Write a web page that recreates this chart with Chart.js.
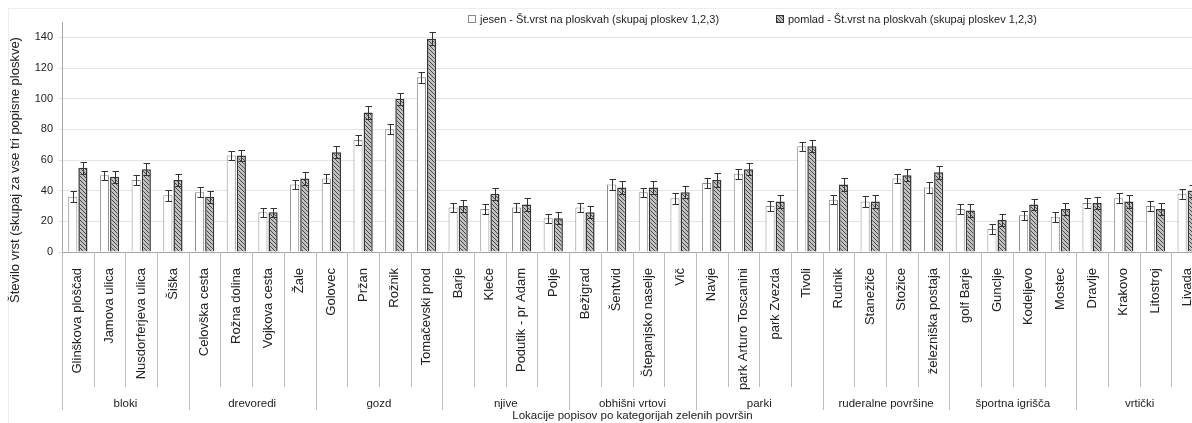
<!DOCTYPE html>
<html>
<head>
<meta charset="utf-8">
<script src="https://cdn.jsdelivr.net/npm/chart.js@4.4.0/dist/chart.umd.min.js"></script>
<style>
  html, body { margin: 0; padding: 0; background: #fff; overflow: hidden; }
  #wrap { position: relative; width: 1192px; height: 423px; overflow: hidden; }
  #frame { position: absolute; left: 8px; top: 8px; width: 1300px; height: 500px; border: 1px solid #ededed; }
  #chartBox { position: absolute; left: 0; top: 0; width: 1215px; height: 423px; }
  .leg { position: absolute; top: 13px; font: 11px "Liberation Sans", Arial, sans-serif; color: #222;
         display: flex; align-items: center; white-space: nowrap; }
  .box { display: inline-block; width: 6px; height: 6px; margin-right: 4px; }
  .box.jesen { border: 1px solid #888; background: #fff; }
  .box.pomlad { border: 1px solid #333; background: repeating-linear-gradient(45deg, #555 0 1px, #c4c4c4 1px 2.5px); }
</style>
</head>
<body>
<div id="wrap">
  <div id="frame"></div>
  <div id="chartBox"><canvas id="chart" width="1215" height="423"></canvas></div>
  <div class="leg" style="left:468px"><span class="box jesen"></span>jesen - Št.vrst na ploskvah (skupaj ploskev 1,2,3)</div>
  <div class="leg" style="left:776px"><span class="box pomlad"></span>pomlad - Št.vrst na ploskvah (skupaj ploskev 1,2,3)</div>
</div>
<script>
// Locations (x axis, inner level)
const categories = [
  'Glinškova ploščad', 'Jamova ulica', 'Nusdorferjeva ulica', 'Šiška',
  'Celovška cesta', 'Rožna dolina', 'Vojkova cesta', 'Žale',
  'Golovec', 'Pržan', 'Rožnik', 'Tomačevski prod',
  'Barje', 'Kleče', 'Podutik - pr Adam', 'Polje',
  'Bežigrad', 'Šentvid', 'Štepanjsko naselje', 'Vič',
  'Navje', 'park Arturo Toscanini', 'park Zvezda', 'Tivoli',
  'Rudnik', 'Stanežiče', 'Stožice', 'železniška postaja',
  'golf Barje', 'Gunclje', 'Kodeljevo', 'Mostec',
  'Dravlje', 'Krakovo', 'Litostroj', 'Livada'
];

// Green area categories (x axis, outer level)
const groups = ['bloki', 'drevoredi', 'gozd', 'njive', 'obhišni vrtovi', 'parki', 'ruderalne površine', 'športna igrišča', 'vrtički'];
const groupSizes = [4, 4, 4, 4, 4, 4, 4, 4, 4];

// Species counts
const jesen = [36, 50, 47, 37, 39, 63, 26, 44, 48, 73, 80, 114, 29, 28, 29, 22, 29, 44, 39, 35,
  45, 51, 30, 69, 34, 33, 48, 42, 28, 15, 24, 23, 32, 35, 30, 38];
const pomlad = [55, 49, 54, 47, 36, 63, 26, 48, 65, 91, 100, 139, 30, 38, 31, 22, 26, 42, 42, 39,
  47, 54, 33, 69, 44, 33, 50, 52, 27, 21, 31, 28, 32, 33, 28, 40];

// Error bar half-lengths
const jesenErr = [3.5, 3, 3.5, 3.5, 3.3, 3, 3, 3, 3, 3.3, 3.3, 3.5, 3, 3, 3, 3, 3, 3.3, 3, 3.5,
  3, 3.3, 3, 3, 3, 3.5, 3, 3.5, 3, 3.3, 3, 3.3, 3.3, 3.3, 3.3, 3.3];
const pomladErr = [4, 4, 4, 4, 4, 3.5, 3, 4, 4, 4.3, 4, 4.3, 4, 4, 4, 4, 4, 4, 4, 4,
  4.3, 4, 4, 4, 4, 4, 4, 4.3, 4, 4, 3.7, 4, 4, 4, 4, 4];

// Y axis
const yMax = 150;
const yStep = 20;
const yLastLabel = 140;

const yTitle = 'Število vrst (skupaj za vse tri popisne ploskve)';
const xTitle = 'Lokacije popisov po kategorijah zelenih površin';

const FONT = '"Liberation Sans", Arial, sans-serif';

function makeHatch() {
  const c = document.createElement('canvas');
  c.width = 4; c.height = 4;
  const g = c.getContext('2d');
  g.fillStyle = '#c0c0c0';
  g.fillRect(0, 0, 4, 4);
  g.strokeStyle = '#4a4a4a';
  g.lineWidth = 1;
  g.beginPath();
  g.moveTo(0, 0); g.lineTo(4, 4);
  g.moveTo(-1, 3); g.lineTo(1, 5);
  g.moveTo(3, -1); g.lineTo(5, 1);
  g.stroke();
  return g.createPattern(c, 'repeat');
}

// error bars on top of each bar
const errorBars = {
  id: 'errorBars',
  afterDatasetsDraw(chart) {
    const ctx = chart.ctx;
    const y = chart.scales.y;
    [jesenErr, pomladErr].forEach((errs, di) => {
      const meta = chart.getDatasetMeta(di);
      const vals = chart.data.datasets[di].data;
      ctx.save();
      ctx.strokeStyle = '#333';
      ctx.lineWidth = 1;
      ctx.beginPath();
      meta.data.forEach((bar, i) => {
        const x = Math.round(bar.x) + 0.5;
        const top = Math.round(y.getPixelForValue(vals[i] + errs[i])) + 0.5;
        const bot = Math.round(y.getPixelForValue(vals[i] - errs[i])) + 0.5;
        ctx.moveTo(x, top); ctx.lineTo(x, bot);
        ctx.moveTo(x - 3, top); ctx.lineTo(x + 3.5, top);
        ctx.moveTo(x - 3, bot); ctx.lineTo(x + 3.5, bot);
      });
      ctx.stroke();
      ctx.restore();
    });
  }
};

// two level x axis: separators + group names, and the y title
const groupAxis = {
  id: 'groupAxis',
  afterDraw(chart) {
    const ctx = chart.ctx;
    const x = chart.scales.x;
    const area = chart.chartArea;
    const w = x.getPixelForValue(1) - x.getPixelForValue(0);
    const edge = i => x.getPixelForValue(i) - w / 2;

    ctx.save();
    ctx.strokeStyle = '#bdbdbd';
    ctx.lineWidth = 1;
    ctx.beginPath();
    for (let i = 0; i <= categories.length; i++) {
      const px = Math.round(edge(i)) + 0.5;
      ctx.moveTo(px, area.bottom);
      ctx.lineTo(px, area.bottom + 135);
    }
    let start = 0;
    groupSizes.forEach(n => {
      const px = Math.round(edge(start)) + 0.5;
      ctx.moveTo(px, area.bottom);
      ctx.lineTo(px, area.bottom + 158);
      start += n;
    });
    const last = Math.round(edge(start)) + 0.5;
    ctx.moveTo(last, area.bottom);
    ctx.lineTo(last, area.bottom + 158);
    ctx.stroke();

    ctx.fillStyle = '#222';
    ctx.font = '11.5px ' + FONT;
    ctx.textAlign = 'center';
    ctx.textBaseline = 'middle';
    start = 0;
    groups.forEach((g, k) => {
      const a = edge(start), b = edge(start + groupSizes[k]);
      ctx.fillText(g, (a + b) / 2, area.bottom + 152);
      start += groupSizes[k];
    });

    // y axis title
    ctx.font = '13px ' + FONT;
    ctx.translate(15, area.bottom - 82);
    ctx.rotate(-Math.PI / 2);
    ctx.fillText(yTitle, 0, 0);
    ctx.restore();
  }
};

new Chart(document.getElementById('chart'), {
  type: 'bar',
  data: {
    labels: categories,
    datasets: [
      {
        label: 'jesen - Št.vrst na ploskvah (skupaj ploskev 1,2,3)',
        data: jesen,
        backgroundColor: '#ffffff',
        borderColor: '#8c8c8c',
        borderWidth: 1,
        barPercentage: 0.9,
        categoryPercentage: 0.64
      },
      {
        label: 'pomlad - Št.vrst na ploskvah (skupaj ploskev 1,2,3)',
        data: pomlad,
        backgroundColor: makeHatch(),
        borderColor: '#333333',
        borderWidth: 1.5,
        barPercentage: 0.9,
        categoryPercentage: 0.64
      }
    ]
  },
  options: {
    responsive: false,
    animation: false,
    layout: { padding: { top: 22, right: 12, bottom: 0, left: 0 } },
    plugins: {
      legend: { display: false },
      tooltip: { enabled: false }
    },
    scales: {
      x: {
        grid: { display: false },
        border: { color: '#a6a6a6' },
        ticks: {
          autoSkip: false,
          minRotation: 90,
          maxRotation: 90,
          padding: 8,
          color: '#222',
          font: { family: FONT, size: 13 }
        },
        title: {
          display: true,
          text: xTitle,
          color: '#222',
          padding: { top: 0, bottom: 0 },
          font: { family: FONT, size: 11.5 }
        },
        afterFit: s => { s.height = 171; }
      },
      y: {
        min: 0,
        max: yMax,
        grid: { color: '#e4e4e4', tickLength: 4 },
        border: { color: '#a6a6a6' },
        ticks: {
          stepSize: yStep,
          padding: 5,
          color: '#222',
          font: { family: FONT, size: 11 }
        },
        afterBuildTicks: s => { s.ticks = s.ticks.filter(t => t.value <= yLastLabel); },
        afterFit: s => { s.width = 62; }
      }
    }
  },
  plugins: [errorBars, groupAxis]
});
</script>
</body>
</html>
